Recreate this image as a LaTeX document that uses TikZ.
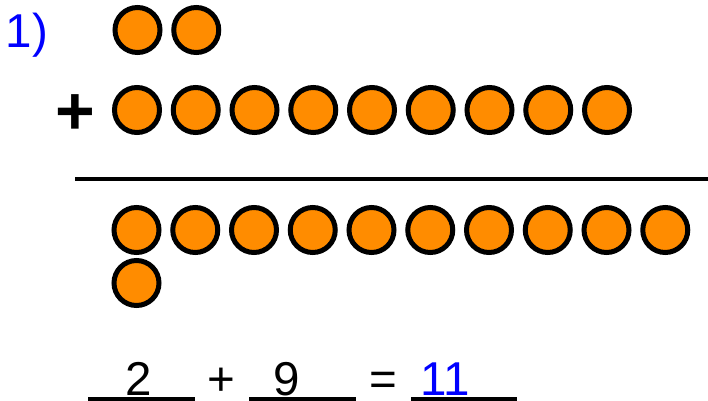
\documentclass[tikz,border=0pt]{standalone}
\usepackage{fontspec}
\setmainfont{Liberation Sans}
\definecolor{dotorange}{RGB}{255,140,0}
\definecolor{numblue}{RGB}{0,0,255}
\tikzset{
  dot/.style={circle, draw=black, fill=dotorange, line width=5pt, minimum size=45pt, inner sep=0pt},
  bigtext/.style={inner sep=0pt, anchor=base, text depth=0pt, font=\fontsize{47.5}{57}\selectfont},
  blank/.style={line width=3.5pt}
}
\begin{document}
\begin{tikzpicture}[x=1pt, y=-1pt]
  \useasboundingbox (0,0) rectangle (708,400);
  \node[bigtext, text=numblue] (num) at (27,47) {1)};
  % first addend
  \foreach \i in {1,...,2}
    \node[dot] (a\i) at ({137.5+58.75*(\i-1)},30) {};
  % second addend
  \node[inner sep=0pt, anchor=base, font=\fontsize{68}{80}\selectfont\bfseries] (plus) at (75,134) {+};
  \foreach \i in {1,...,9}
    \node[dot] (b\i) at ({137+58.75*(\i-1)},110) {};
  \draw[line width=4pt] (75,179) -- (708,179);
  % sum
  \foreach \i in {1,...,10}
    \node[dot] (s\i) at ({136.5+58.75*(\i-1)},230) {};
  \node[dot] (s11) at (136.5,283) {};
  % equation
  \draw[blank] (88,399) -- (195,399);
  \draw[blank] (249,399) -- (356,399);
  \draw[blank] (411,399) -- (517,399);
  \node[bigtext] (first) at (139,395) {2};
  \node[bigtext] (op) at (221.5,395) {+};
  \node[bigtext] (second) at (287,395) {9};
  \node[bigtext] (eq) at (383,395) {=};
  \node[bigtext, text=numblue] (total) at (445,395) {11};
\end{tikzpicture}
\end{document}
